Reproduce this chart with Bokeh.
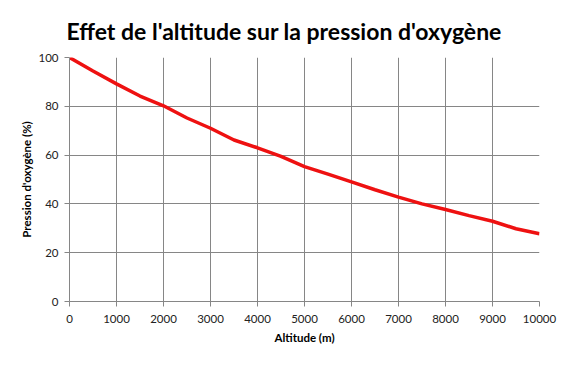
from bokeh.plotting import figure
from bokeh.models import Range1d, FixedTicker, Title
from bokeh.embed import file_html
from bokeh.resources import INLINE

altitude = [0, 500, 1000, 1500, 2000, 2500, 3000, 3500, 4000, 4500, 5000,
            5500, 6000, 6500, 7000, 7500, 8000, 8500, 9000, 9500, 10000]
pression = [100, 94.5, 89.2, 84.2, 80.2, 75.2, 71.0, 66.2, 63.0, 59.5, 55.3,
            52.2, 49.0, 45.8, 42.8, 40.0, 37.7, 35.2, 32.9, 29.8, 27.8]
x_ticks = [0, 1000, 2000, 3000, 4000, 5000, 6000, 7000, 8000, 9000, 10000]
y_ticks = [0, 20, 40, 60, 80, 100]
title_text = "Effet de l'altitude sur la pression d'oxygène"

FONT = "Lato"
GRID = "#868686"

p = figure(frame_width=470, frame_height=244, output_backend="svg",
           toolbar_location=None, x_range=Range1d(0, 10000), y_range=Range1d(0, 100),
           min_border_left=69, min_border_right=25, min_border_top=57, min_border_bottom=56)
p.title = None
t = Title(text=title_text, align="left", offset=-3,
          text_font=FONT, text_font_size="23px", text_font_style="bold", text_color="#000000",
          standoff=26)
p.add_layout(t, "above")

p.line(altitude, pression, line_color="#ee1111", line_width=3.5)

p.outline_line_color = None
p.background_fill_color = "white"
p.border_fill_color = "white"

for ax in (p.xaxis, p.yaxis):
    ax.axis_line_color = GRID
    ax.major_tick_line_color = GRID
    ax.minor_tick_line_color = None
    ax.major_tick_in = 0
    ax.major_tick_out = 5
    ax.major_label_text_font = FONT
    ax.major_label_text_font_size = "11.5px"
    ax.major_label_text_color = "#222222"
    ax.axis_label_text_font = FONT
    ax.axis_label_text_font_size = "11.5px"
    ax.axis_label_text_font_style = "bold"
    ax.axis_label_text_color = "#000000"

p.xaxis.ticker = FixedTicker(ticks=x_ticks)
p.yaxis.ticker = FixedTicker(ticks=y_ticks)
p.xaxis.axis_label = "Altitude (m)"
p.yaxis.axis_label = "Pression d'oxygène (%)"
p.xaxis.major_label_standoff = 8
p.yaxis.major_label_standoff = 6
p.xaxis.axis_label_standoff = 5
p.yaxis.axis_label_standoff = 2

p.xgrid.ticker = FixedTicker(ticks=x_ticks)
p.ygrid.ticker = FixedTicker(ticks=y_ticks)
p.xgrid.grid_line_color = GRID
p.ygrid.grid_line_color = GRID

open("out.html", "w").write(file_html(p, INLINE))
